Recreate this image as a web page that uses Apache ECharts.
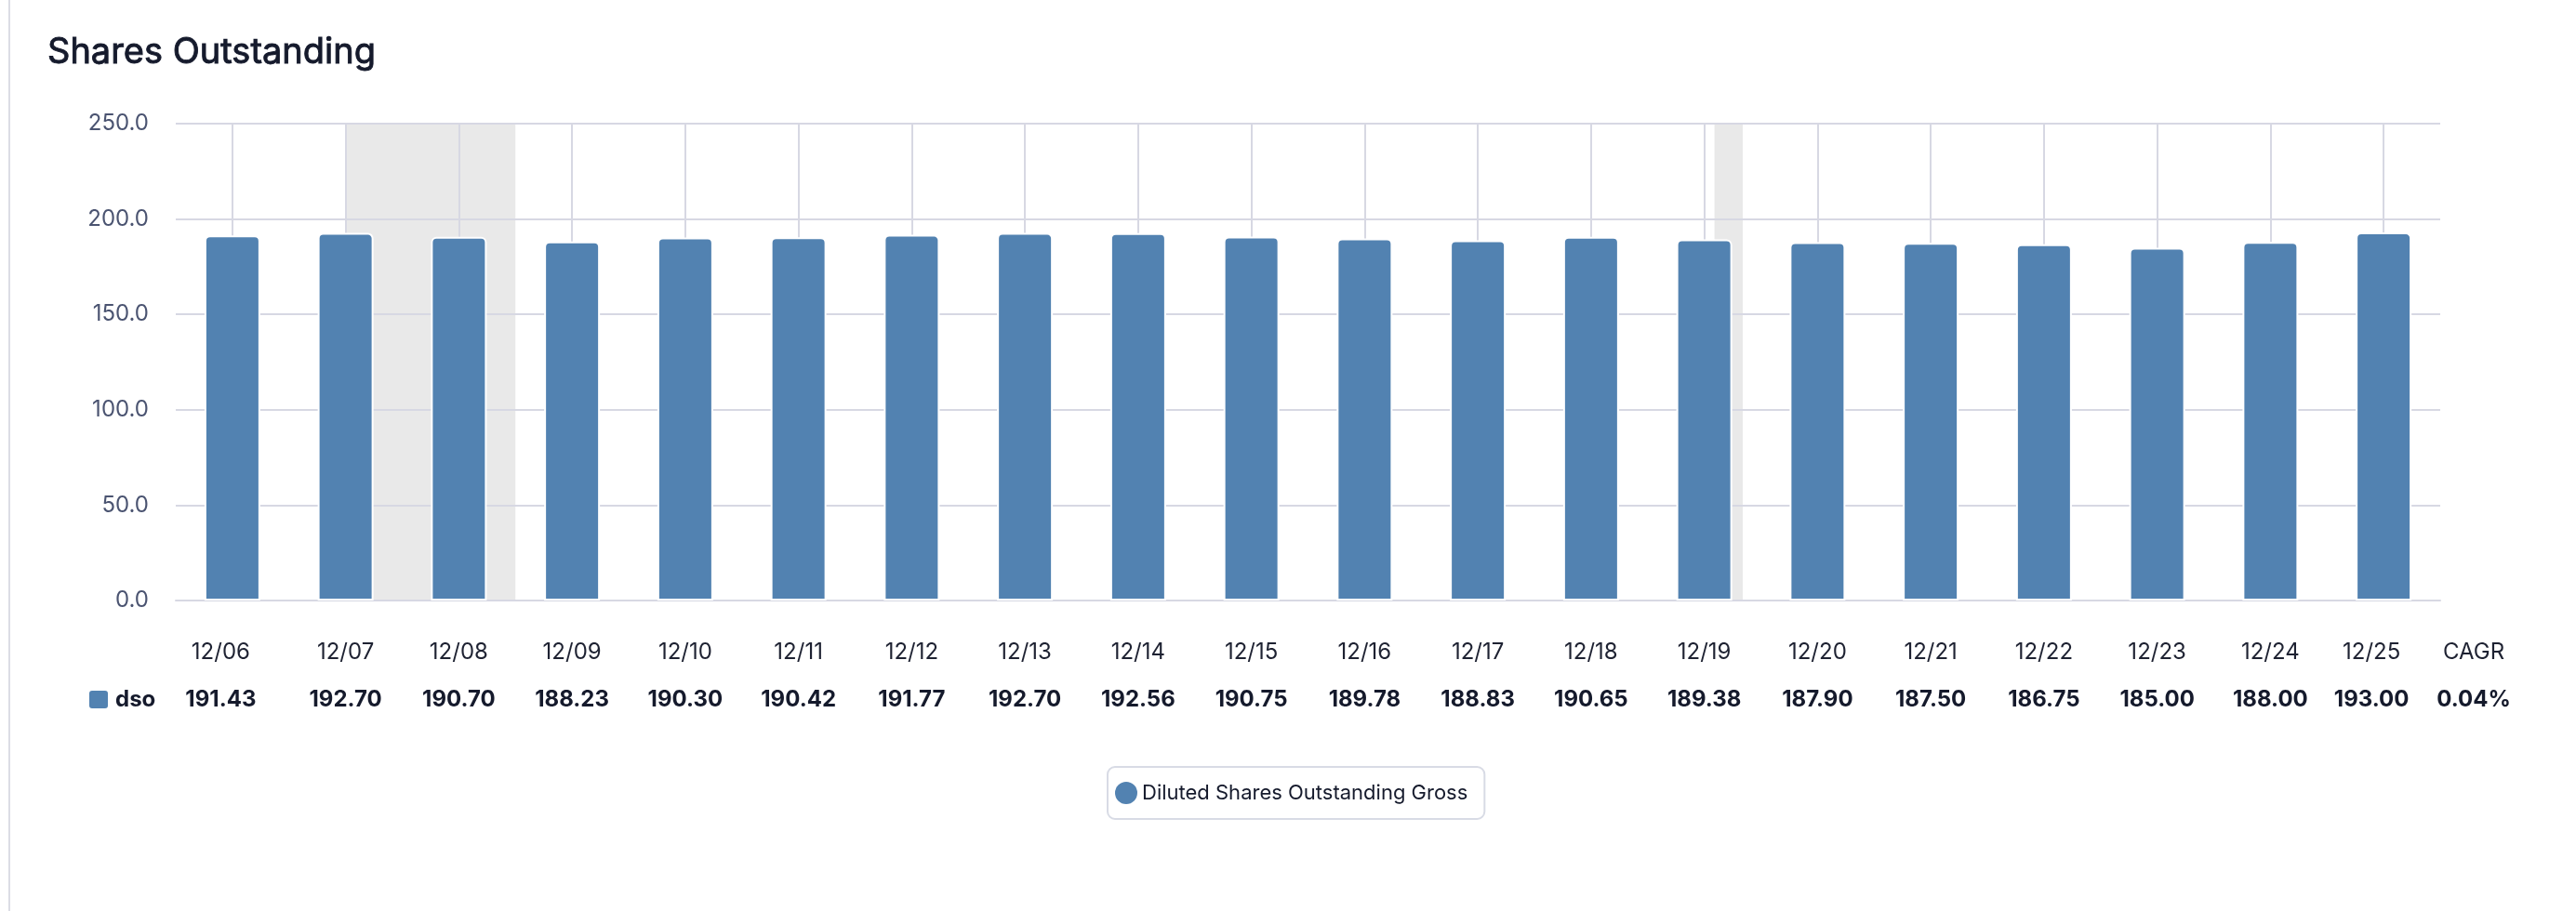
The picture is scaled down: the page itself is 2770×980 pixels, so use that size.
<!DOCTYPE html>
<html>
<head>
<meta charset="utf-8">
<title>Shares Outstanding</title>
<script src="https://cdn.jsdelivr.net/npm/echarts@6/dist/echarts.min.js"></script>
<style>
  html, body { margin: 0; padding: 0; background: #fff; }
  #chart { width: 2770px; height: 980px; }
</style>
</head>
<body>
<div id="chart"></div>
<script>
// diluted shares outstanding (gross), fiscal years ending December
const categories = ['12/06', '12/07', '12/08', '12/09', '12/10', '12/11', '12/12', '12/13', '12/14', '12/15',
  '12/16', '12/17', '12/18', '12/19', '12/20', '12/21', '12/22', '12/23', '12/24', '12/25'];
const dsoValues = [191.43, 192.70, 190.70, 188.23, 190.30, 190.42, 191.77, 192.70, 192.56, 190.75,
  189.78, 188.83, 190.65, 189.38, 187.90, 187.50, 186.75, 185.00, 188.00, 193.00];
const cagrText = '0.04%';
// recession bands in decimal years (the 12/06 column sits at 2007.0)
const recessionStart = [2008.0, 2020.09];
const recessionEnd = [2009.5, 2020.34];

const FONT = 'Inter';
const barColor = '#5282b1';
const lineColor = '#d7d8e3';
const textDark = '#151a2c';
const seriesName = 'Diluted Shares Outstanding Gross';

// first and last table columns sit a little left of their bars
function shiftedLabels() {
  return categories.map(function(c, i) {
    let pad = 0;
    if (i === 0) pad = 25;
    if (i === categories.length - 1) pad = 26;
    return { value: c, textStyle: { padding: [0, pad, 0, 0] } };
  });
}

function renderChart() {
  const dom = document.getElementById('chart');
  const chart = echarts.init(dom);
  const option = {
    backgroundColor: '#fff',
    animation: false,
    grid: {
      left: 189,
      right: 146,
      top: 133,
      bottom: 334,
    },
    legend: {
      data: [seriesName],
      left: 1191,
      top: 825,
      icon: 'circle',
      itemWidth: 24,
      itemHeight: 24,
      borderColor: '#d8dbe5',
      borderWidth: 2,
      borderRadius: 8,
      padding: [16, 18, 16, 8],
      itemStyle: { borderWidth: 0 },
      textStyle: { fontFamily: FONT, fontSize: 22, color: textDark },
    },
    xAxis: [{
      type: 'category',
      data: shiftedLabels(),
      position: 'bottom',
      z: 2,
      axisLine: { lineStyle: { color: lineColor, width: 2 } },
      axisTick: { alignWithLabel: true, length: 17, lineStyle: { color: lineColor, width: 2 } },
      splitLine: { show: true, alignWithLabel: true, lineStyle: { color: lineColor, width: 2 } },
      axisLabel: { interval: 0, margin: 44, fontFamily: FONT, fontSize: 24, color: '#1e2232' },
    }, {
      type: 'category',
      data: shiftedLabels(),
      position: 'bottom',
      z: 2,
      axisLine: { show: false },
      axisTick: { show: false },
      splitLine: { show: false },
      axisLabel: {
        interval: 0,
        margin: 95,
        fontFamily: FONT,
        fontSize: 24,
        fontWeight: 'bold',
        color: textDark,
        formatter: function(v, i) { return dsoValues[i].toFixed(2); },
      },
    }, {
      type: 'value',
      position: 'top',
      show: false,
      min: 2006.5,
      max: 2026.5,
    }],
    yAxis: [{
      type: 'value',
      min: 0,
      max: 250,
      interval: 50,
      z: 2,
      axisLine: { show: false },
      axisTick: { show: false },
      splitLine: { lineStyle: { color: lineColor, width: 2 } },
      axisLabel: {
        margin: 29,
        fontFamily: FONT,
        fontSize: 24,
        color: '#4b5471',
        formatter: function(v) { return v.toFixed(1); },
      },
    }],
    series: [{
      name: seriesName,
      type: 'bar',
      xAxisIndex: 0,
      yAxisIndex: 0,
      data: dsoValues,
      barWidth: 60,
      z: 4,
      itemStyle: {
        color: barColor,
        borderColor: '#fff',
        borderWidth: 2,
        borderRadius: [5, 5, 0, 0],
      },
    }, {
      name: 'recession',
      type: 'line',
      xAxisIndex: 2,
      yAxisIndex: 0,
      data: [],
      silent: true,
      markArea: {
        silent: true,
        z: 1,
        itemStyle: { color: '#e9e9e9' },
        data: recessionStart.map(function(s, i) { return [{ xAxis: s }, { xAxis: recessionEnd[i] }]; }),
      },
    }],
    graphic: [{
      type: 'line',
      shape: { x1: 10, y1: 0, x2: 10, y2: 980 },
      style: { stroke: '#dcdde5', lineWidth: 2 },
    }, {
      // medium weight is not installed, a thin outline thickens the regular face
      type: 'text',
      x: 51,
      y: 57,
      style: {
        text: 'Shares Outstanding', fontFamily: FONT, fontSize: 38, fill: textDark,
        stroke: textDark, lineWidth: 0.9, verticalAlign: 'middle',
      },
    }, {
      type: 'rect',
      shape: { x: 96, y: 743, width: 20, height: 19, r: 3 },
      style: { fill: barColor },
    }, {
      type: 'text',
      x: 124,
      y: 753,
      style: { text: 'dso', fontFamily: FONT, fontSize: 24, fontWeight: 'bold', fill: textDark, verticalAlign: 'middle' },
    }, {
      type: 'text',
      x: 2660,
      y: 702,
      style: { text: 'CAGR', fontFamily: FONT, fontSize: 24, fill: '#1e2232', align: 'center', verticalAlign: 'middle' },
    }, {
      type: 'text',
      x: 2660,
      y: 753,
      style: { text: cagrText, fontFamily: FONT, fontSize: 24, fontWeight: 'bold', fill: textDark, align: 'center', verticalAlign: 'middle' },
    }],
  };
  chart.setOption(option, true);
}

renderChart();
</script>
</body>
</html>
